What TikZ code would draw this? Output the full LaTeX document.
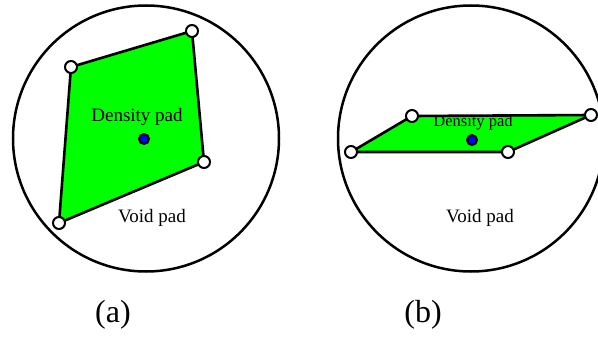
\documentclass[tikz,border=0pt]{standalone}
\usepackage{fontspec}
\setmainfont{Liberation Serif}
\begin{document}
\begin{tikzpicture}[x=1pt,y=-1pt,
  outer/.style={draw=black,line width=2.5pt},
  pad/.style={draw=black,fill=green,line width=2.6pt,line join=round},
  vtx/.style={circle,draw=black,fill=white,line width=2pt,minimum size=12pt,inner sep=0pt},
  ctr/.style={circle,draw=black,fill=blue,line width=2pt,minimum size=10pt,inner sep=0pt},
  lbl/.style={font=\fontsize{19}{21}\selectfont,inner sep=0pt},
  captext/.style={font=\fontsize{32}{36}\selectfont,inner sep=0pt}]
\useasboundingbox (0,0) rectangle (598,340);
\clip (0,0) rectangle (598,340);
% (a)
\node[circle,outer,minimum size=266pt,inner sep=0pt] (ca) at (146,138.5) {};
\coordinate (a1) at (71,67);
\coordinate (a2) at (192,31);
\coordinate (a3) at (204,162);
\coordinate (a4) at (59,223);
\draw[pad] (a1) -- (a2) -- (a3) -- (a4) -- cycle;
\foreach \p in {a1,a2,a3,a4} \node[vtx] at (\p) {};
\node[lbl] (da) at (137,117) {Density pad};
\node[ctr] (pa) at (144,139) {};
\node[lbl] (va) at (152,218) {Void pad};
\node[captext] (la) at (113,315) {(a)};
% (b)
\node[circle,outer,minimum size=266pt,inner sep=0pt] (cb) at (471,138.5) {};
\coordinate (b1) at (412,116);
\coordinate (b2) at (591,115);
\coordinate (b3) at (508,152);
\coordinate (b4) at (351,152);
\draw[pad] (b1) -- (b2) -- (b3) -- (b4) -- cycle;
\foreach \p in {b1,b2,b3,b4} \node[vtx] at (\p) {};
\node[lbl,font=\fontsize{16.5}{18}\selectfont] (db) at (473,123) {Density pad};
\node[ctr] (pb) at (472,140) {};
\node[lbl] (vb) at (480,218) {Void pad};
\node[captext] (lb) at (423,315) {(b)};
\end{tikzpicture}
\end{document}
